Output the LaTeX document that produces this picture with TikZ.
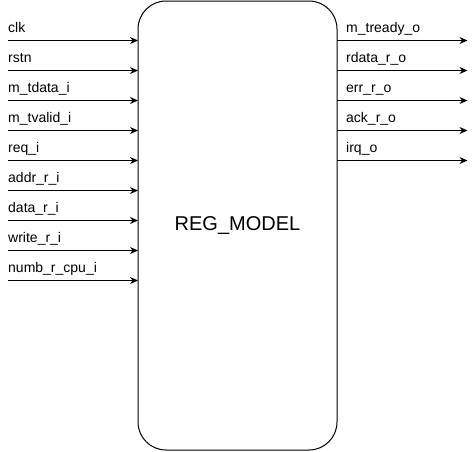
\documentclass[tikz,border=0pt]{standalone}
\usepackage{fontspec}
\setmainfont{Liberation Sans}
\usetikzlibrary{arrows.meta}

\begin{document}
\begin{tikzpicture}[
    x=1pt, y=-1pt,
    >={Stealth[length=8pt, width=7pt]},
    port/.style={draw, ->, line width=1pt},
    portlabel/.style={anchor=base west, inner sep=0pt, font=\fontsize{14}{16}\selectfont},
    block/.style={draw, line width=1pt, rounded corners=28pt, minimum width=199pt, minimum height=449pt, font=\fontsize{20}{24}\selectfont}
]
    \useasboundingbox (0,0) rectangle (476,451);

    % --- MODULE BODY ---
    \node[block] (model) at (237.5,225.5) {REG\_MODEL};

    % --- INPUT PORTS ---
    \coordinate (clk_a) at (7.5,40.5);      \coordinate (clk_b) at (138,40.5);
    \coordinate (rstn_a) at (7.5,70.5);     \coordinate (rstn_b) at (138,70.5);
    \coordinate (tdata_a) at (7.5,100.5);   \coordinate (tdata_b) at (138,100.5);
    \coordinate (tvalid_a) at (7.5,130.5);  \coordinate (tvalid_b) at (138,130.5);
    \coordinate (req_a) at (7.5,160.5);     \coordinate (req_b) at (138,160.5);
    \coordinate (addr_a) at (7.5,190.5);    \coordinate (addr_b) at (138,190.5);
    \coordinate (data_a) at (7.5,220.5);    \coordinate (data_b) at (138,220.5);
    \coordinate (write_a) at (7.5,250.5);   \coordinate (write_b) at (138,250.5);
    \coordinate (numb_a) at (7.5,280.5);    \coordinate (numb_b) at (138,280.5);

    \node[portlabel] (clk_l) at (8,32.5) {clk};
    \node[portlabel] (rstn_l) at (8,62.5) {rstn};
    \node[portlabel] (tdata_l) at (8,92.5) {m\_tdata\_i};
    \node[portlabel] (tvalid_l) at (8,122.5) {m\_tvalid\_i};
    \node[portlabel] (req_l) at (8,152.5) {req\_i};
    \node[portlabel] (addr_l) at (8,182.5) {addr\_r\_i};
    \node[portlabel] (data_l) at (8,212.5) {data\_r\_i};
    \node[portlabel] (write_l) at (8,242.5) {write\_r\_i};
    \node[portlabel] (numb_l) at (8,272.5) {numb\_r\_cpu\_i};

    \draw[port] (clk_a) -- (clk_b);
    \draw[port] (rstn_a) -- (rstn_b);
    \draw[port] (tdata_a) -- (tdata_b);
    \draw[port] (tvalid_a) -- (tvalid_b);
    \draw[port] (req_a) -- (req_b);
    \draw[port] (addr_a) -- (addr_b);
    \draw[port] (data_a) -- (data_b);
    \draw[port] (write_a) -- (write_b);
    \draw[port] (numb_a) -- (numb_b);

    % --- OUTPUT PORTS ---
    \coordinate (tready_a) at (337,40.5);   \coordinate (tready_b) at (467.5,40.5);
    \coordinate (rdata_a) at (337,70.5);    \coordinate (rdata_b) at (467.5,70.5);
    \coordinate (err_a) at (337,100.5);     \coordinate (err_b) at (467.5,100.5);
    \coordinate (ack_a) at (337,130.5);     \coordinate (ack_b) at (467.5,130.5);
    \coordinate (irq_a) at (337,160.5);     \coordinate (irq_b) at (467.5,160.5);

    \node[portlabel] (tready_l) at (346,32.5) {m\_tready\_o};
    \node[portlabel] (rdata_l) at (346,62.5) {rdata\_r\_o};
    \node[portlabel] (err_l) at (346,92.5) {err\_r\_o};
    \node[portlabel] (ack_l) at (346,122.5) {ack\_r\_o};
    \node[portlabel] (irq_l) at (346,152.5) {irq\_o};

    \draw[port] (tready_a) -- (tready_b);
    \draw[port] (rdata_a) -- (rdata_b);
    \draw[port] (err_a) -- (err_b);
    \draw[port] (ack_a) -- (ack_b);
    \draw[port] (irq_a) -- (irq_b);

\end{tikzpicture}
\end{document}
